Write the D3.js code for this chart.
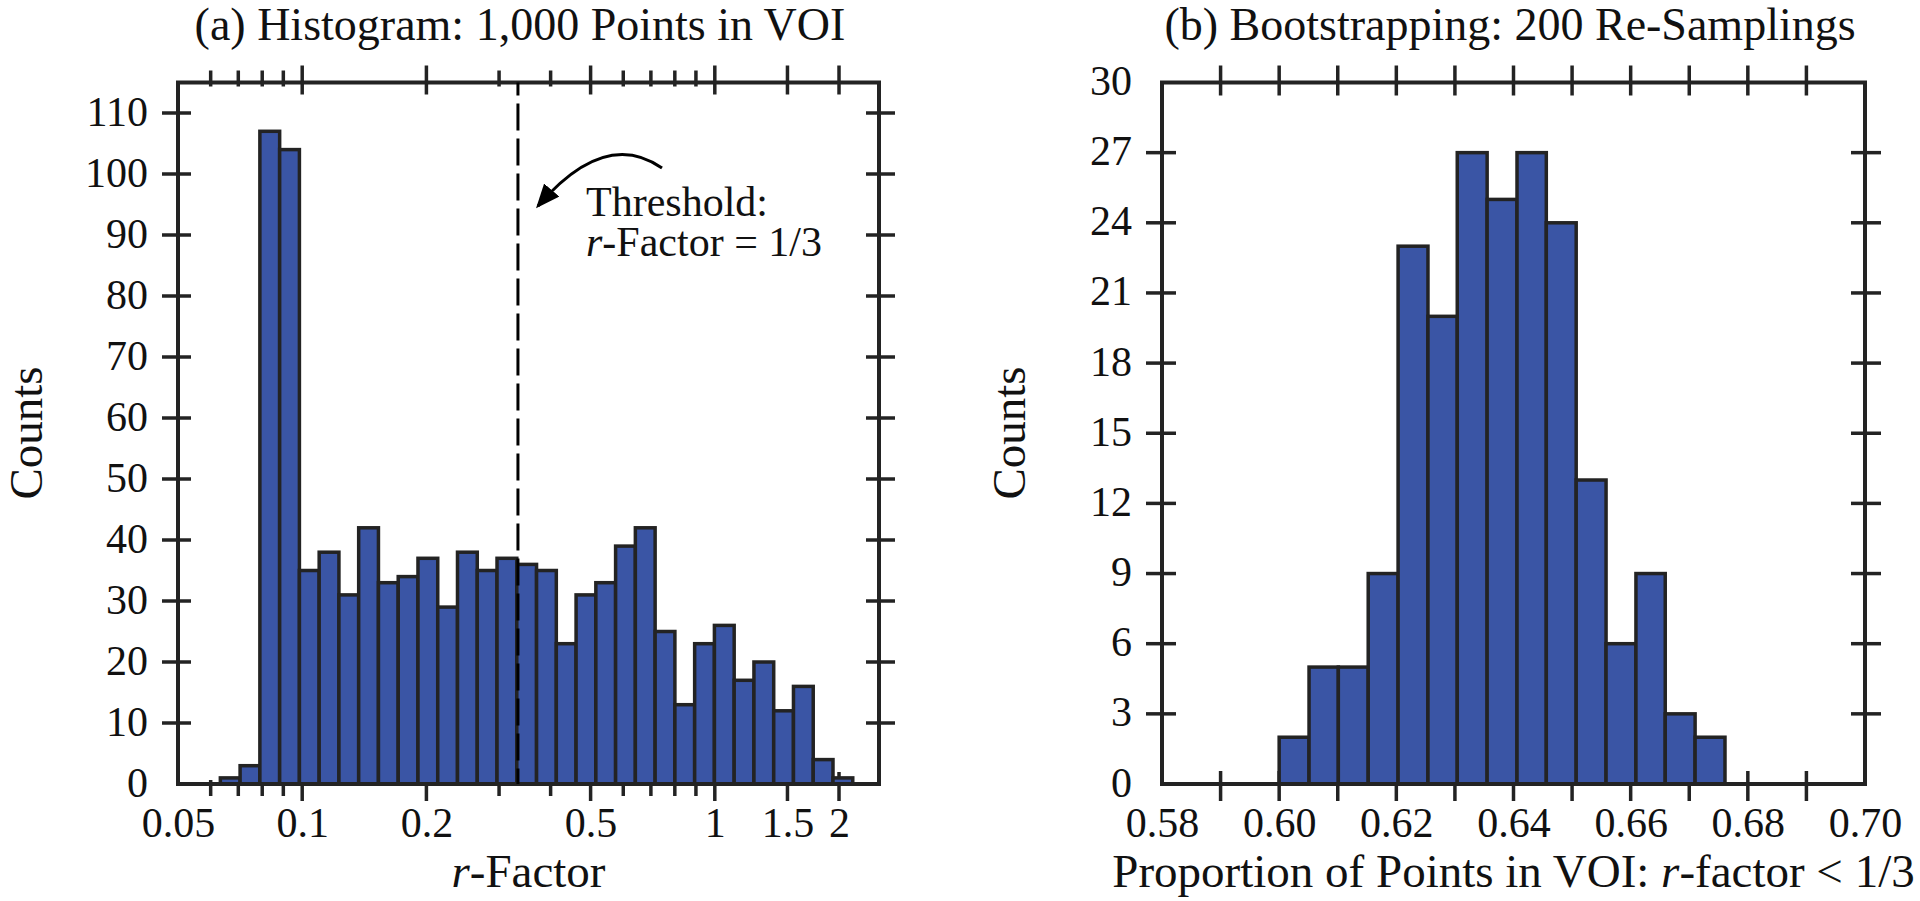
<!DOCTYPE html>
<html>
<head>
<meta charset="utf-8">
<script src="https://cdn.jsdelivr.net/npm/d3@7/dist/d3.min.js"></script>
<style>
  body { margin: 0; background: #fff; }
  svg text { font-family: "Liberation Serif", "Times New Roman", serif; fill: #111; }
</style>
</head>
<body>
<svg id="chart" width="1920" height="901"></svg>
<script>
// (a) histogram of r-factor, log-spaced bins
const rBinEdges = [0.06333, 0.07071, 0.07896, 0.08817, 0.09845, 0.10993, 0.12274, 0.13705,
  0.15303, 0.17088, 0.19080, 0.21305, 0.23789, 0.26563, 0.29660, 0.33119, 0.36980,
  0.41292, 0.46107, 0.51483, 0.57486, 0.64189, 0.71673, 0.80030, 0.89361, 0.99781,
  1.11415, 1.24406, 1.38912, 1.55109, 1.73195, 1.93390, 2.15939];
const rCounts = [1, 3, 107, 104, 35, 38, 31, 42, 33, 34, 37, 29, 38, 35, 37, 36,
  35, 23, 31, 33, 39, 42, 25, 13, 23, 26, 17, 20, 12, 16, 4, 1];
const rMajorTicks = [0.1, 0.2, 0.5, 1, 1.5, 2];
const rMinorTicks = [0.06, 0.07, 0.08, 0.09, 0.3, 0.4, 0.6, 0.7, 0.8, 0.9];
const rTickLabels = [0.05, 0.1, 0.2, 0.5, 1, 1.5, 2];
const countTicksA = [10, 20, 30, 40, 50, 60, 70, 80, 90, 100, 110];
const countLabelsA = [0, 10, 20, 30, 40, 50, 60, 70, 80, 90, 100, 110];
const threshold = 1 / 3;

// (b) bootstrapping, 200 re-samplings
const propBinEdges = [0.6000, 0.6051, 0.6101, 0.6152, 0.6203, 0.6254, 0.6304, 0.6355,
  0.6406, 0.6456, 0.6507, 0.6558, 0.6609, 0.6659, 0.6710, 0.6761];
const propCounts = [2, 5, 5, 9, 23, 20, 27, 25, 27, 24, 13, 6, 9, 3, 2];
const propTicks = [0.59, 0.60, 0.61, 0.62, 0.63, 0.64, 0.65, 0.66, 0.67, 0.68, 0.69];
const propTickLabels = [0.58, 0.60, 0.62, 0.64, 0.66, 0.68, 0.70];
const countTicksB = [3, 6, 9, 12, 15, 18, 21, 24, 27];
const countLabelsB = [0, 3, 6, 9, 12, 15, 18, 21, 24, 27, 30];

const yTop = 82.5, yBot = 784;
const panelA = { left: 178, right: 879 };
const panelB = { left: 1162, right: 1865 };
const barFill = "#3a55a5", ink = "#232323";

const svg = d3.select("#chart");

const xA = d3.scaleLog().domain([0.05, 2.5]).range([panelA.left, panelA.right]);
const yA = d3.scaleLinear().domain([0, 115]).range([yBot, yTop]);
const xB = d3.scaleLinear().domain([0.58, 0.70]).range([panelB.left, panelB.right]);
const yB = d3.scaleLinear().domain([0, 30]).range([yBot, yTop]);

// ticks crossing the frame on top+bottom
function xTicks(scale, values, outLen, inLen) {
  const g = svg.append("g").attr("stroke", ink).attr("stroke-width", 3.5);
  g.selectAll("line.b").data(values).join("line").attr("class", "b")
    .attr("x1", d => scale(d)).attr("x2", d => scale(d))
    .attr("y1", yBot + outLen).attr("y2", yBot - inLen);
  g.selectAll("line.t").data(values).join("line").attr("class", "t")
    .attr("x1", d => scale(d)).attr("x2", d => scale(d))
    .attr("y1", yTop - outLen).attr("y2", yTop + inLen);
}
function yTicks(scale, values, left, right, outLen, inLen) {
  const g = svg.append("g").attr("stroke", ink).attr("stroke-width", 3.5);
  g.selectAll("line.l").data(values).join("line").attr("class", "l")
    .attr("y1", d => scale(d)).attr("y2", d => scale(d))
    .attr("x1", left - outLen).attr("x2", left + inLen);
  g.selectAll("line.r").data(values).join("line").attr("class", "r")
    .attr("y1", d => scale(d)).attr("y2", d => scale(d))
    .attr("x1", right + outLen).attr("x2", right - inLen);
}
function bars(xs, ys, edges, counts) {
  const data = counts.map((c, i) => ({ x0: edges[i], x1: edges[i + 1], c: c }));
  svg.append("g").selectAll("rect").data(data).join("rect")
    .attr("x", d => xs(d.x0))
    .attr("width", d => xs(d.x1) - xs(d.x0))
    .attr("y", d => ys(d.c))
    .attr("height", d => ys(0) - ys(d.c))
    .attr("fill", barFill)
    .attr("stroke", ink)
    .attr("stroke-width", 3.5);
}
function frame(p) {
  svg.append("rect")
    .attr("x", p.left).attr("y", yTop)
    .attr("width", p.right - p.left).attr("height", yBot - yTop)
    .attr("fill", "none").attr("stroke", ink).attr("stroke-width", 4);
}
function xLabels(scale, values, fmt) {
  svg.append("g").attr("transform", "translate(0," + yBot + ")")
    .call(d3.axisBottom(scale).tickValues(values).tickFormat(fmt).tickSize(0).tickPadding(0))
    .call(g => g.select(".domain").remove())
    .call(g => g.selectAll("text")
      .attr("y", 52.7).attr("dy", null)
      .style("font-family", "Liberation Serif, serif")
      .style("font-size", "42px").attr("fill", "#111"));
}
function yLabels(scale, values, left) {
  svg.append("g").attr("transform", "translate(" + left + ",0)")
    .call(d3.axisLeft(scale).tickValues(values).tickSize(0).tickPadding(0))
    .call(g => g.select(".domain").remove())
    .call(g => g.selectAll("text")
      .attr("x", -30).attr("dy", null).attr("y", 12)
      .style("font-family", "Liberation Serif, serif")
      .style("font-size", "42px").attr("fill", "#111"));
}

// ---- panel (a)
xTicks(xA, rMajorTicks, 17, 12);
xTicks(xA, rMinorTicks, 12, 4);
yTicks(yA, countTicksA, panelA.left, panelA.right, 16, 13);
bars(xA, yA, rBinEdges, rCounts);
frame(panelA);

svg.append("line")
  .attr("x1", xA(threshold)).attr("x2", xA(threshold))
  .attr("y1", yTop).attr("y2", yBot)
  .attr("stroke", "#000").attr("stroke-width", 3)
  .attr("stroke-dasharray", "27,8").attr("stroke-dashoffset", 14);

xLabels(xA, rTickLabels, d3.format("~g"));
yLabels(yA, countLabelsA, panelA.left);

// ---- panel (b)
xTicks(xB, propTicks, 17, 13);
yTicks(yB, countTicksB, panelB.left, panelB.right, 16, 14);
bars(xB, yB, propBinEdges, propCounts);
frame(panelB);
xLabels(xB, propTickLabels, d3.format(".2f"));
yLabels(yB, countLabelsB, panelB.left);

// ---- titles
svg.append("text").attr("x", 520).attr("y", 40)
  .attr("text-anchor", "middle").style("font-size", "46px")
  .text("(a) Histogram: 1,000 Points in VOI");
svg.append("text").attr("x", 1510).attr("y", 40)
  .attr("text-anchor", "middle").style("font-size", "46px")
  .text("(b) Bootstrapping: 200 Re-Samplings");

// axis titles
const xtA = svg.append("text").attr("x", (panelA.left + panelA.right) / 2).attr("y", 887)
  .attr("text-anchor", "middle").style("font-size", "47px");
xtA.append("tspan").style("font-style", "italic").text("r");
xtA.append("tspan").text("-Factor");

const xtB = svg.append("text").attr("x", (panelB.left + panelB.right) / 2).attr("y", 887)
  .attr("text-anchor", "middle").style("font-size", "47px");
xtB.append("tspan").text("Proportion of Points in VOI: ");
xtB.append("tspan").style("font-style", "italic").text("r");
xtB.append("tspan").text("-factor < 1/3");

svg.append("text").attr("transform", "translate(42,433) rotate(-90)")
  .attr("text-anchor", "middle").style("font-size", "47px").text("Counts");
svg.append("text").attr("transform", "translate(1025,433) rotate(-90)")
  .attr("text-anchor", "middle").style("font-size", "47px").text("Counts");

// ---- threshold annotation
svg.append("defs").append("marker")
  .attr("id", "arrow")
  .attr("markerUnits", "userSpaceOnUse")
  .attr("viewBox", "0 0 24 20")
  .attr("markerWidth", 24).attr("markerHeight", 20)
  .attr("refX", 21).attr("refY", 10)
  .attr("orient", "auto")
  .append("path").attr("d", "M0,0 L24,10 L0,20 Z").attr("fill", "#000");

svg.append("path")
  .attr("d", "M662,168 Q605,128 538,206")
  .attr("fill", "none").attr("stroke", "#000").attr("stroke-width", 3)
  .attr("marker-end", "url(#arrow)");

svg.append("text").attr("x", 586).attr("y", 216).style("font-size", "42px").text("Threshold:");
const ann = svg.append("text").attr("x", 586).attr("y", 256).style("font-size", "42px");
ann.append("tspan").style("font-style", "italic").text("r");
ann.append("tspan").text("-Factor = 1/3");
</script>
</body>
</html>
